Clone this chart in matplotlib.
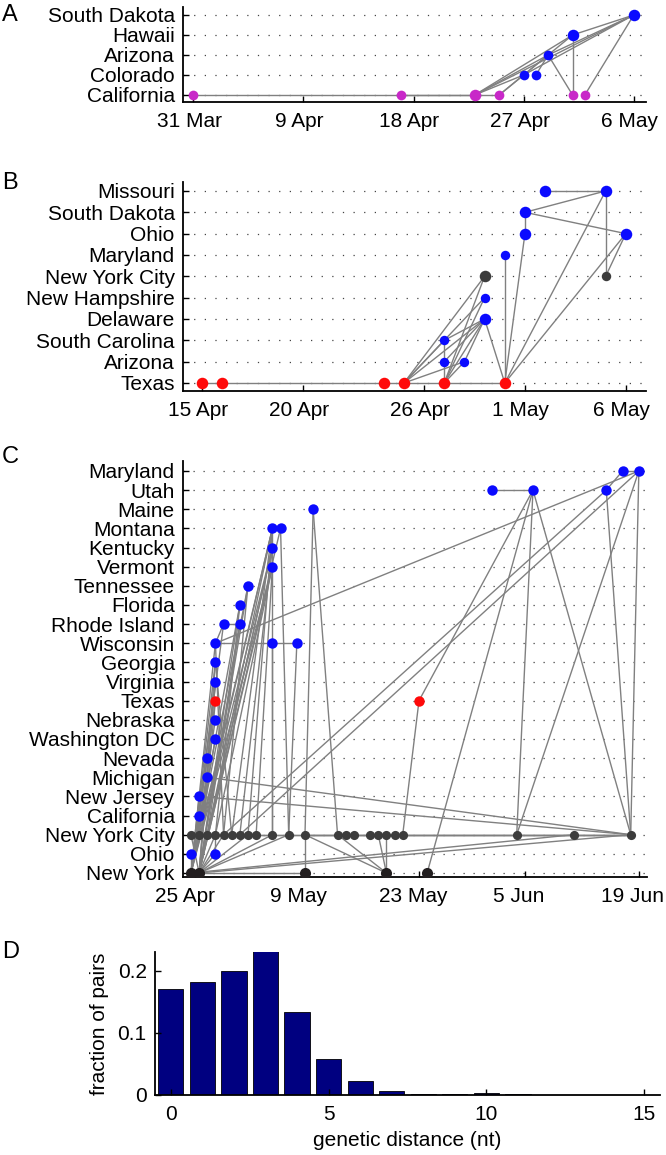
import matplotlib
matplotlib.use('Agg')
import matplotlib.pyplot as plt

plt.rcParams['font.family'] = ['Liberation Sans', 'DejaVu Sans']

# ---------------- Panel A data (days after 31 Mar) ----------------
A_states = ['California', 'Colorado', 'Arizona', 'Hawaii', 'South Dakota']
A_nodes = {
    'California': [0, 17, 23, 25, 31, 32],
    'Colorado': [27, 28],
    'Arizona': [29],
    'Hawaii': [31],
    'South Dakota': [36],
}
A_big = [('California', 23), ('Hawaii', 31), ('South Dakota', 36)]
A_edges = [
    ('California', 0, 'California', 23), ('California', 17, 'California', 23),
    ('California', 23, 'California', 25), ('California', 23, 'Colorado', 27),
    ('California', 23, 'Arizona', 29), ('California', 23, 'Hawaii', 31),
    ('California', 23, 'South Dakota', 36), ('California', 25, 'Arizona', 29),
    ('Colorado', 27, 'South Dakota', 36), ('Colorado', 28, 'Arizona', 29),
    ('Arizona', 29, 'South Dakota', 36), ('Arizona', 29, 'California', 31),
    ('Hawaii', 31, 'California', 31), ('Hawaii', 31, 'South Dakota', 36),
    ('California', 32, 'South Dakota', 36), ('California', 25, 'Hawaii', 31),
]
A_ticks = [0, 9, 18, 27, 36]
A_ticklabels = ['31 Mar', '9 Apr', '18 Apr', '27 Apr', '6 May']

# ---------------- Panel B data (days after 15 Apr) ----------------
B_states = ['Texas', 'Arizona', 'South Carolina', 'Delaware', 'New Hampshire',
            'New York City', 'Maryland', 'Ohio', 'South Dakota', 'Missouri']
B_nodes = {
    'Texas': [0, 1, 9, 10, 12, 15],
    'Arizona': [12, 13],
    'South Carolina': [12],
    'Delaware': [14],
    'New Hampshire': [14],
    'New York City': [14, 20],
    'Maryland': [15],
    'Ohio': [16, 21],
    'South Dakota': [16],
    'Missouri': [17, 20],
}
B_small = [('Arizona', 12), ('Arizona', 13), ('Maryland', 15), ('New York City', 20),
           ('New Hampshire', 14), ('South Carolina', 12)]
B_edges = [
    ('Texas', 0, 'Texas', 1), ('Texas', 1, 'Texas', 10), ('Texas', 10, 'Texas', 12),
    ('Texas', 12, 'Texas', 15), ('Texas', 10, 'New York City', 14),
    ('Texas', 10, 'New Hampshire', 14), ('Texas', 10, 'Delaware', 14),
    ('Texas', 10, 'South Carolina', 12), ('Texas', 10, 'Arizona', 13),
    ('Texas', 12, 'Arizona', 12), ('Arizona', 12, 'South Carolina', 12),
    ('Texas', 12, 'Delaware', 14), ('Texas', 12, 'New Hampshire', 14),
    ('Texas', 12, 'New York City', 14), ('Texas', 12, 'Arizona', 13),
    ('Arizona', 12, 'Delaware', 14), ('South Carolina', 12, 'Delaware', 14),
    ('Delaware', 14, 'Texas', 15), ('Arizona', 13, 'Delaware', 14),
    ('Texas', 15, 'Maryland', 15), ('Texas', 15, 'Ohio', 16),
    ('Texas', 15, 'Missouri', 20), ('Texas', 15, 'Ohio', 21),
    ('South Dakota', 16, 'Ohio', 16), ('South Dakota', 16, 'Missouri', 20),
    ('South Dakota', 16, 'Ohio', 21), ('Missouri', 17, 'Missouri', 20),
    ('Missouri', 20, 'New York City', 20), ('Ohio', 21, 'New York City', 20),
]
B_ticks = [0, 5, 11, 16, 21]
B_ticklabels = ['15 Apr', '20 Apr', '26 Apr', '1 May', '6 May']

# ---------------- Panel C data (days after 25 Apr) ----------------
C_states = ['New York', 'Ohio', 'New York City', 'California', 'New Jersey',
            'Michigan', 'Nevada', 'Washington DC', 'Nebraska', 'Texas',
            'Virginia', 'Georgia', 'Wisconsin', 'Rhode Island', 'Florida',
            'Tennessee', 'Vermont', 'Kentucky', 'Montana', 'Maine', 'Utah',
            'Maryland']
C_nodes = {
    'New York': [0, 1, 14, 24, 29],
    'Ohio': [0, 3],
    'New York City': [0, 1, 2, 3, 4, 5, 6, 7, 8, 10, 12, 14, 18, 19, 20, 22,
                      23, 24, 25, 26, 40, 47, 54],
    'California': [1], 'New Jersey': [1], 'Michigan': [2], 'Nevada': [2],
    'Washington DC': [3], 'Nebraska': [3], 'Texas': [3, 28], 'Virginia': [3],
    'Georgia': [3], 'Wisconsin': [3, 10, 13], 'Rhode Island': [4, 6],
    'Florida': [6], 'Tennessee': [7], 'Vermont': [10], 'Kentucky': [10],
    'Montana': [10, 11], 'Maine': [15], 'Utah': [37, 42, 51],
    'Maryland': [53, 55],
}
C_nyc_chain = C_nodes['New York City']
C_edges = [
    ('New York', 0, 'New York', 1), ('New York', 1, 'New York', 14),
    ('New York City', 0, 'New York City', 54), ('New York City', 14, 'New York City', 54),
    ('Ohio', 0, 'New York', 0), ('Ohio', 3, 'New York', 1), ('Ohio', 3, 'New York City', 3),
    ('New York', 0, 'California', 1), ('New York', 0, 'New Jersey', 1),
    ('New York', 0, 'Michigan', 2), ('New York', 0, 'Nevada', 2),
    ('New York', 0, 'Washington DC', 3), ('New York', 0, 'Nebraska', 3),
    ('New York', 0, 'Texas', 3), ('New York', 0, 'Virginia', 3),
    ('New York', 0, 'Georgia', 3), ('New York', 0, 'Wisconsin', 3),
    ('New York', 0, 'Rhode Island', 4), ('New York', 0, 'Florida', 6),
    ('New York', 0, 'Tennessee', 7), ('New York', 0, 'Vermont', 10),
    ('New York', 0, 'Kentucky', 10), ('New York', 0, 'Montana', 10),
    ('New York', 1, 'Rhode Island', 6), ('New York', 1, 'Florida', 6),
    ('New York', 1, 'Tennessee', 7), ('New York', 1, 'Montana', 10),
    ('New York', 1, 'Kentucky', 10), ('New York', 1, 'Vermont', 10),
    ('New York', 1, 'Montana', 11), ('New York', 1, 'Georgia', 3),
    ('New York', 1, 'Virginia', 3), ('New York', 1, 'Texas', 3),
    ('New York City', 1, 'Montana', 10), ('New York City', 2, 'Kentucky', 10),
    ('New York City', 3, 'Vermont', 10), ('New York City', 4, 'Tennessee', 7),
    ('New York City', 5, 'Montana', 10), ('New York City', 6, 'Kentucky', 10),
    ('New York City', 7, 'Montana', 10), ('New York City', 8, 'Vermont', 10),
    ('New York City', 2, 'Rhode Island', 6), ('New York City', 3, 'Florida', 6),
    ('New York City', 4, 'Wisconsin', 3), ('New York City', 5, 'Georgia', 3),
    ('New York City', 0, 'New York', 1), ('New York City', 1, 'New York', 0),
    ('New York City', 2, 'New York', 1), ('New York City', 3, 'New York', 1),
    ('New York City', 4, 'New York', 1), ('New York City', 7, 'New York', 1),
    ('New York', 1, 'New York City', 10), ('New York', 1, 'New York City', 12),
    ('Montana', 10, 'New York City', 10), ('Wisconsin', 10, 'New York City', 10),
    ('Montana', 11, 'New York City', 12), ('Wisconsin', 13, 'New York City', 12),
    ('Wisconsin', 3, 'Wisconsin', 13), ('Wisconsin', 3, 'Maryland', 55),
    ('Rhode Island', 4, 'Rhode Island', 6), ('Wisconsin', 3, 'Rhode Island', 4),
    ('Maine', 15, 'New York City', 14), ('Maine', 15, 'New York City', 18),
    ('New York City', 14, 'New York', 14), ('New York City', 14, 'New York', 24),
    ('New York City', 18, 'New York', 24), ('New York City', 23, 'New York', 24),
    ('New York City', 24, 'New York', 24),
    ('Texas', 28, 'New York City', 26), ('Texas', 28, 'Utah', 42),
    ('New York', 29, 'Utah', 42), ('New York City', 40, 'Utah', 42),
    ('New York City', 40, 'Maryland', 55), ('Utah', 37, 'Utah', 42),
    ('Utah', 42, 'New York City', 54), ('Utah', 51, 'New York City', 54),
    ('Utah', 51, 'Maryland', 53), ('Utah', 51, 'New York City', 4),
    ('Maryland', 55, 'New York City', 6), ('Maryland', 55, 'New York City', 54),
    ('Maryland', 53, 'Maryland', 55), ('New York City', 54, 'Michigan', 2),
    ('New York City', 54, 'New Jersey', 1), ('New York City', 54, 'New York', 1),
    ('New York City', 47, 'New York', 0),
]
C_ticks = [0, 14, 28, 41, 55]
C_ticklabels = ['25 Apr', '9 May', '23 May', '5 Jun', '19 Jun']

# ---------------- Panel D data ----------------
D_distance = list(range(16))
D_fraction = [0.170, 0.181, 0.199, 0.231, 0.134, 0.058, 0.022, 0.0065,
              0.002, 0.001, 0.0027, 0.001, 0.0, 0.0, 0.0, 0.0]

# ---------------- styling ----------------
BLUE = '#0a0aff'
RED = '#ff0a0a'
MAG = '#c828c8'
NYC = '#3c3c3c'
NY = '#221e1f'
EDGE = '#808080'
FS = 15

W, H = 666, 1155
fig = plt.figure(figsize=(W / 100, H / 100), dpi=100)


def frac(l, t, r, b):
    return [l / W, 1 - b / H, (r - l) / W, (b - t) / H]


def style_axis(ax, states, xlim, ylim, ticks, labels, dash, xshift_px):
    ax.set_xlim(*xlim)
    ax.set_ylim(*ylim)
    ax.set_yticks(range(len(states)))
    ax.set_yticklabels(states, fontsize=FS)
    ax.set_xticks(ticks)
    ax.set_xticklabels([])
    # date labels, nudged slightly left of their tick as in the original
    for t, lab in zip(ticks, labels):
        ax.annotate(lab, xy=(t, 0), xycoords=('data', 'axes fraction'),
                    xytext=(xshift_px * 0.72, -7.5), textcoords='offset points',
                    ha='center', va='top', fontsize=FS, annotation_clip=False)
    for s in ['top', 'right']:
        ax.spines[s].set_visible(False)
    for s in ['left', 'bottom']:
        ax.spines[s].set_linewidth(1.3)
    ax.tick_params(direction='in', length=4, width=1.0, pad=6)
    for i in range(len(states)):
        ax.axhline(i, color='#444444', lw=0.9, ls=(0, (1, dash)), zorder=1)


def draw_graph(ax, states, nodes, edges, color_of, size_of, lw_edge=1.0):
    yi = {s: i for i, s in enumerate(states)}
    for s0, d0, s1, d1 in edges:
        ax.plot([d0, d1], [yi[s0], yi[s1]], color=EDGE, lw=lw_edge, zorder=2,
                solid_capstyle='round')
    for s, days in nodes.items():
        for d in days:
            ax.plot([d], [yi[s]], 'o', color=color_of(s), ms=size_of(s, d),
                    mec='none', zorder=3)


# Panel A
axA = fig.add_axes(frac(183, 7, 646, 102))
style_axis(axA, A_states, (-0.84, 37), (-0.35, 4.4), A_ticks, A_ticklabels, 7.5, -4)
draw_graph(axA, A_states, A_nodes, A_edges,
           lambda s: MAG if s == 'California' else BLUE,
           lambda s, d: 8.3 if (s, d) in A_big else 7.0)

# Panel B
axB = fig.add_axes(frac(183, 182, 646, 391))
style_axis(axB, B_states, (-0.95, 22), (-0.375, 9.42), B_ticks, B_ticklabels, 7.5, -4)
B_col = {'Texas': RED, 'New York City': NYC}
draw_graph(axB, B_states, B_nodes, B_edges,
           lambda s: B_col.get(s, BLUE),
           lambda s, d: 6.8 if (s, d) in B_small else 8.3)

# Panel C
axC = fig.add_axes(frac(183, 461, 647, 877))
style_axis(axC, C_states, (-0.98, 56), (-0.21, 21.52), C_ticks, C_ticklabels, 7, -6)
chain = [('New York City', C_nyc_chain[i], 'New York City', C_nyc_chain[i + 1])
         for i in range(len(C_nyc_chain) - 1)]
C_col = {'Texas': RED, 'New York City': NYC, 'New York': NY}
C_size = {'New York City': 6.6, 'New York': 8.0}
draw_graph(axC, C_states, C_nodes, chain + C_edges,
           lambda s: C_col.get(s, BLUE),
           lambda s, d: C_size.get(s, 7.5))

# Panel D
axD = fig.add_axes(frac(155, 952, 660, 1095))
axD.bar(D_distance, D_fraction, width=0.8, color='#000080', edgecolor='black',
        linewidth=0.6)
axD.set_xlim(-0.5, 15.5)
axD.set_ylim(0, 0.23)
axD.set_xticks([0, 5, 10, 15])
axD.set_yticks([0, 0.1, 0.2])
axD.set_yticklabels(['0', '0.1', '0.2'])
axD.tick_params(direction='in', length=4, width=1.0, labelsize=FS, pad=6)
axD.tick_params(axis='x', pad=7)
for s in ['top', 'right']:
    axD.spines[s].set_visible(False)
for s in ['left', 'bottom']:
    axD.spines[s].set_linewidth(1.3)
axD.set_xlabel('genetic distance (nt)', fontsize=FS, labelpad=5)
axD.set_ylabel('fraction of pairs', fontsize=FS, labelpad=6)

for lab, y in [('A', 15), ('B', 183), ('C', 457), ('D', 952)]:
    fig.text(2 / W, 1 - y / H, lab, fontsize=17, va='center', ha='left')

fig.savefig('out.png', dpi=100)
